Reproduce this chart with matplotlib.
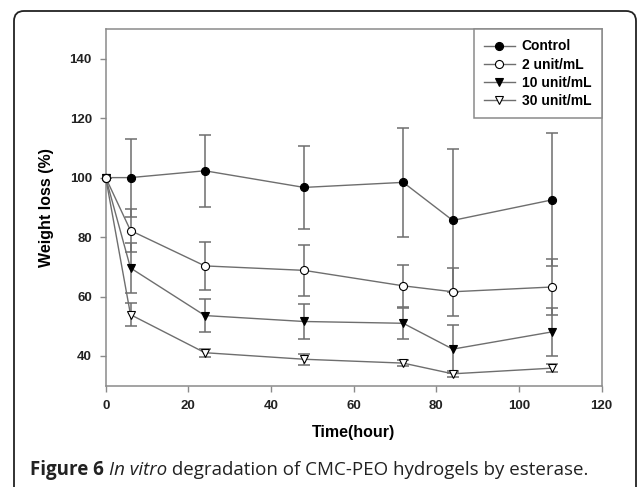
import matplotlib
matplotlib.use('Agg')
import matplotlib.pyplot as plt
from matplotlib.patches import FancyBboxPatch
from matplotlib.transforms import IdentityTransform

time = [0, 6, 24, 48, 72, 84, 108]

control = [100, 100, 102.3, 96.7, 98.4, 85.6, 92.5]
control_err = [0, 13.1, 12.2, 14.0, 18.4, 24.0, 22.4]

u2 = [100, 82.2, 70.3, 68.8, 63.6, 61.6, 63.2]
u2_err = [0, 7.2, 8.1, 8.6, 7.0, 8.1, 9.3]

u10 = [100, 69.6, 53.6, 51.6, 51.0, 42.3, 48.1]
u10_err = [0, 8.3, 5.4, 5.9, 5.3, 8.1, 8.1]

u30 = [100, 53.9, 41.1, 38.9, 37.6, 34.0, 35.9]
u30_err = [0, 3.8, 1.4, 1.8, 1.0, 1.0, 1.4]

labels = ['Control', '2 unit/mL', '10 unit/mL', '30 unit/mL']

plt.rcParams['font.family'] = ['Liberation Sans', 'DejaVu Sans']

line_gray = '#6e6e6e'
axis_gray = '#8a8a8a'

fig = plt.figure(figsize=(6.38, 4.87), dpi=100)
ax = fig.add_axes([0.1657, 0.208, 0.7771, 0.7325])

series = [
    (control, control_err, 'o', 'black', labels[0], 3),
    (u10, u10_err, 'v', 'black', labels[2], 4),
    (u30, u30_err, 'v', 'white', labels[3], 5),
    (u2, u2_err, 'o', 'white', labels[1], 6),
]

handles = {}
for vals, err, mk, fc, lab, z in series:
    ax.errorbar(time, vals, yerr=err, fmt='none', ecolor=line_gray,
                elinewidth=1.1, capsize=4, capthick=1.1, zorder=2)
    h, = ax.plot(time, vals, '-', color=line_gray, lw=1.0, marker=mk,
                 ms=5.8, mfc=fc, mec='black', mew=0.8, zorder=z, clip_on=False,
                 label=lab)
    handles[lab] = h

ax.set_xlim(0, 120)
ax.set_ylim(30, 150)
ax.set_xticks([0, 20, 40, 60, 80, 100, 120])
ax.set_yticks([40, 60, 80, 100, 120, 140])

for s in ax.spines.values():
    s.set_color(axis_gray)
    s.set_linewidth(1.1)
ax.tick_params(direction='out', length=4, width=1.0, color=axis_gray,
               labelsize=9.5, pad=6)
for t in ax.get_xticklabels() + ax.get_yticklabels():
    t.set_fontweight('bold')
    t.set_color('#222222')

ax.set_xlabel('Time(hour)', fontsize=11.5, fontweight='bold', labelpad=10)
ax.set_ylabel('Weight loss (%)', fontsize=11.5, fontweight='bold', labelpad=11)

leg = ax.legend([handles[l] for l in labels], labels, loc='upper right',
                borderaxespad=0, fancybox=False, framealpha=1, numpoints=1,
                handlelength=2.2, handletextpad=0.5, labelspacing=0.3,
                borderpad=0.75, prop={'weight': 'bold', 'size': 10})
leg.get_frame().set_edgecolor(axis_gray)
leg.get_frame().set_linewidth(1.1)

# outer rounded frame, open below the image edge
frame = FancyBboxPatch((14, -30), 622, 506, boxstyle='round,pad=0,rounding_size=10',
                       transform=IdentityTransform(), fill=False,
                       edgecolor='#222222', linewidth=1.3)
fig.patches.append(frame)

# caption with mixed styles
cap_font = ['Open Sans', 'DejaVu Sans']
renderer = fig.canvas.get_renderer()
x = 30 / 638
y = 1 - 470 / 487
parts = [('Figure 6 ', 'bold', 'normal'), ('In vitro', 'normal', 'italic'),
         (' degradation of CMC-PEO hydrogels by esterase.', 'normal', 'normal')]
for txt, wt, st in parts:
    t = fig.text(x, y, txt, fontsize=13.5, family=cap_font, weight=wt, style=st,
                 va='center', ha='left', color='#222222')
    bb = t.get_window_extent(renderer=renderer)
    x += bb.width / fig.bbox.width

fig.savefig('out.png', dpi=100)
